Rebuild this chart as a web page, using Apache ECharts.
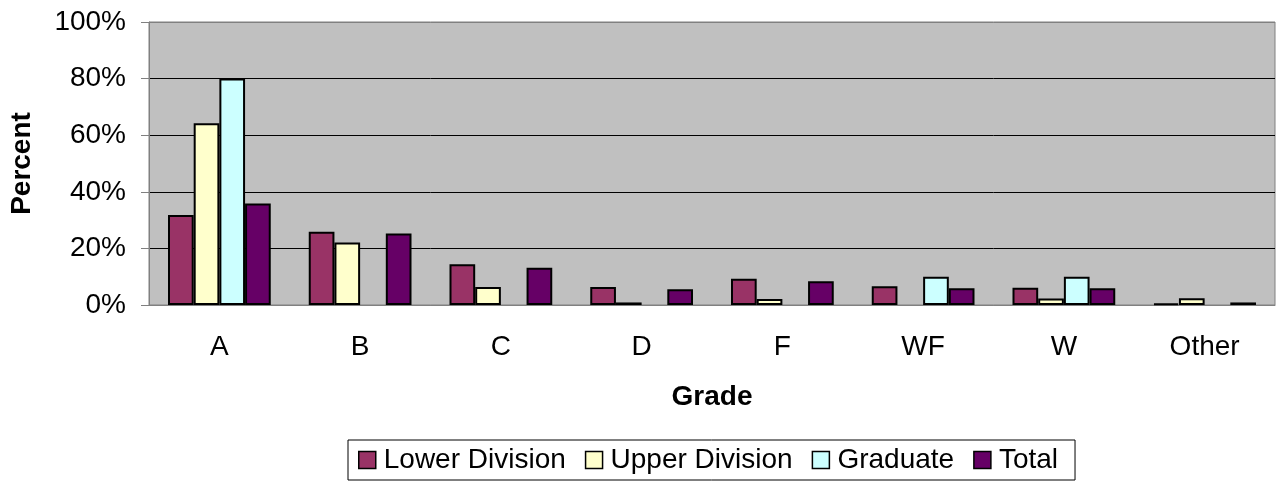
<!DOCTYPE html>
<html>
<head>
<meta charset="utf-8">
<script src="https://cdn.jsdelivr.net/npm/echarts@6/dist/echarts.min.js"></script>
<style>
  html, body { margin: 0; padding: 0; background: #fff; }
  #chart { width: 1276px; height: 482px; }
</style>
</head>
<body>
<div id="chart"></div>
<script>
// grades and percent values
const grades = ['A', 'B', 'C', 'D', 'F', 'WF', 'W', 'Other'];
const lowerDivision = [31.8, 25.9, 14.4, 6.4, 9.3, 6.6, 6.1, 0.5];
const upperDivision = [64.2, 22.1, 6.4, 0.9, 2.1, 0, 2.3, 2.4];
const graduate = [80, 0, 0, 0, 0, 10, 10, 0];
const total = [35.9, 25.3, 13.2, 5.6, 8.4, 5.9, 5.9, 0.9];

const font = 'Liberation Sans, Arial, sans-serif';
const fs = 28;
const myChart = echarts.init(document.getElementById('chart'));

function bars(name, data, color) {
    return {
        name: name,
        type: 'bar',
        // zero values get no outline, like the original
        data: data.map(v => (v === 0 ? { value: 0, itemStyle: { borderWidth: 0 } } : v)),
        barGap: '0%',
        barCategoryGap: '27%',
        itemStyle: { color: color, borderColor: '#000', borderWidth: 2 },
    };
}

myChart.setOption({
    animation: false,
    textStyle: { fontFamily: font, color: '#000' },
    grid: {
        left: 149, right: 1, top: 22, height: 283,
        show: true,
        backgroundColor: '#c0c0c0',
        borderColor: '#808080',
        borderWidth: 1,
    },
    legend: {
        bottom: 2,
        left: 348,
        icon: 'rect',
        itemWidth: 17,
        itemHeight: 17,
        itemGap: 19,
        padding: [6, 17, 6, 10],
        borderColor: '#000',
        borderWidth: 1,
        textStyle: { fontSize: fs, fontFamily: font, color: '#000', padding: [0, 0, 0, 3] },
        itemStyle: { borderColor: '#000', borderWidth: 1.5 },
        data: ['Lower Division', 'Upper Division', 'Graduate', 'Total'],
    },
    xAxis: {
        type: 'category',
        data: grades,
        name: 'Grade',
        nameLocation: 'middle',
        nameGap: 78,
        nameTextStyle: { fontSize: fs, fontWeight: 'bold', fontFamily: font, color: '#000' },
        axisLine: { lineStyle: { color: '#808080', width: 1 } },
        axisTick: { length: 8, lineStyle: { color: '#808080' } },
        axisLabel: { fontSize: fs, fontFamily: font, color: '#000', margin: 28 },
    },
    yAxis: {
        type: 'value',
        min: 0,
        max: 100,
        interval: 20,
        name: 'Percent',
        nameLocation: 'middle',
        nameGap: 113,
        nameTextStyle: { fontSize: fs, fontWeight: 'bold', fontFamily: font, color: '#000' },
        axisLine: { show: true, lineStyle: { color: '#808080' } },
        axisTick: { show: true, length: 8, lineStyle: { color: '#808080' } },
        axisLabel: { fontSize: fs, fontFamily: font, color: '#000', margin: 23, formatter: '{value}%' },
        splitLine: { lineStyle: { color: ['#808080', '#000', '#000', '#000', '#000', '#808080'], width: 1 } },
    },
    series: [
        bars('Lower Division', lowerDivision, '#993366'),
        bars('Upper Division', upperDivision, '#ffffcc'),
        bars('Graduate', graduate, '#ccffff'),
        bars('Total', total, '#660066'),
    ],
});
</script>
</body>
</html>
